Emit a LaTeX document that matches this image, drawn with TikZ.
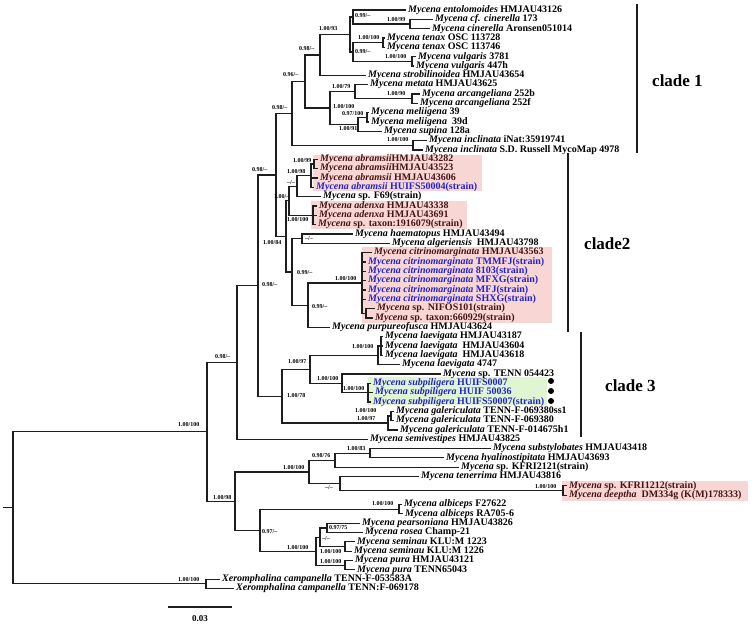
\documentclass[tikz,border=0pt]{standalone}
\usepackage{fontspec}
\setmainfont{Liberation Serif}

\definecolor{strainblue}{RGB}{35,35,205}
\definecolor{boxtext}{RGB}{70,20,20}
\definecolor{pinkbox}{RGB}{248,214,212}
\definecolor{greenbox}{RGB}{224,245,210}
\definecolor{branchcol}{RGB}{30,30,30}

\newcommand{\spn}[1]{\textit{#1}}

\tikzset{
  branch/.style={line width=1.2pt, draw=branchcol},
  leaf/.style={anchor=west, inner xsep=2pt, inner ysep=0pt, text height=6.5pt, text depth=1.8pt,
    font=\fontsize{10}{10}\selectfont\bfseries},
  newleaf/.style={leaf, text=strainblue},
  boxleaf/.style={leaf, text=boxtext},
  supp/.style={anchor=west, inner sep=0pt, font=\fontsize{6}{6}\selectfont\bfseries},
  cladebar/.style={line width=2.4pt, draw=branchcol},
  cladename/.style={anchor=west, inner sep=0pt, font=\fontsize{17}{17}\selectfont\bfseries},
}

\begin{document}
\begin{tikzpicture}[x=1pt,y=-1pt,line join=miter]

\path[fill=white,use as bounding box] (0,0) rectangle (755,627);

% highlight boxes
\fill[pinkbox] (313,155) rectangle (482,191);
\fill[pinkbox] (311,201) rectangle (467,229);
\fill[pinkbox] (362,247) rectangle (552,323);
\fill[greenbox] (368,377) rectangle (547,405);
\fill[pinkbox] (562,481) rectangle (748,501);

% tips
\node[leaf] (t1) at (406,10.0) {\spn{Mycena entolomoides} HMJAU43126};
\node[leaf] (t2) at (433,19.3) {\spn{Mycena cf. cinerella} 173};
\node[leaf] (t3) at (430,28.7) {\spn{Mycena cinerella} Aronsen051014};
\node[leaf] (t4) at (385,38.0) {\spn{Mycena tenax} OSC 113728};
\node[leaf] (t5) at (385,47.3) {\spn{Mycena tenax} OSC 113746};
\node[leaf] (t6) at (416,56.7) {\spn{Mycena vulgaris} 3781};
\node[leaf] (t7) at (414,66.0) {\spn{Mycena vulgaris} 447h};
\node[leaf] (t8) at (366,75.3) {\spn{Mycena strobilinoidea} HMJAU43654};
\node[leaf] (t9) at (368,84.6) {\spn{Mycena metata} HMJAU43625};
\node[leaf] (t10) at (420,94.0) {\spn{Mycena arcangeliana} 252b};
\node[leaf] (t11) at (418,103.3) {\spn{Mycena arcangeliana} 252f};
\node[leaf] (t12) at (369,112.6) {\spn{Mycena meliigena} 39};
\node[leaf] (t13) at (369,122.0) {\spn{Mycena meliigena}\ \ 39d};
\node[leaf] (t14) at (382,131.3) {\spn{Mycena supina} 128a};
\node[leaf] (t15) at (427,140.6) {\spn{Mycena inclinata} iNat:35919741};
\node[leaf] (t16) at (423,150.0) {\spn{Mycena inclinata} S.D. Russell MycoMap 4978};
\node[boxleaf] (t17) at (318,159.3) {\spn{Mycena abramsii}HMJAU43282};
\node[boxleaf] (t18) at (318,168.6) {\spn{Mycena abramsii}HMJAU43523};
\node[boxleaf] (t19) at (318,177.9) {\spn{Mycena abramsii} HMJAU43606};
\node[newleaf] (t20) at (314,187.3) {\spn{Mycena abramsii} HUIFS50004(strain)};
\node[leaf] (t21) at (321,196.6) {\spn{Mycena} sp. F69(strain)};
\node[boxleaf] (t22) at (317,205.9) {\spn{Mycena adenxa} HMJAU43338};
\node[boxleaf] (t23) at (317,215.3) {\spn{Mycena adenxa} HMJAU43691};
\node[boxleaf] (t24) at (316,224.6) {\spn{Mycena} sp. taxon:1916079(strain)};
\node[leaf] (t25) at (353,233.9) {\spn{Mycena haematopus} HMJAU43494};
\node[leaf] (t26) at (390,243.3) {\spn{Mycena algeriensis}\ \ HMJAU43798};
\node[boxleaf] (t27) at (372,252.6) {\spn{Mycena citrinomarginata} HMJAU43563};
\node[newleaf] (t28) at (366,261.9) {\spn{Mycena citrinomarginata} TMMFJ(strain)};
\node[newleaf] (t29) at (366,271.2) {\spn{Mycena citrinomarginata} 8103(strain)};
\node[newleaf] (t30) at (366,280.6) {\spn{Mycena citrinomarginata} MFXG(strain)};
\node[newleaf] (t31) at (366,289.9) {\spn{Mycena citrinomarginata} MFJ(strain)};
\node[newleaf] (t32) at (366,299.2) {\spn{Mycena citrinomarginata} SHXG(strain)};
\node[boxleaf] (t33) at (375,308.6) {\spn{Mycena} sp. NIFOS101(strain)};
\node[boxleaf] (t34) at (373,317.9) {\spn{Mycena} sp. taxon:660929(strain)};
\node[leaf] (t35) at (330,327.2) {\spn{Mycena purpureofusca} HMJAU43624};
\node[leaf] (t36) at (383,336.6) {\spn{Mycena laevigata} HMJAU43187};
\node[leaf] (t37) at (383,345.9) {\spn{Mycena laevigata}\ \ HMJAU43604};
\node[leaf] (t38) at (383,355.2) {\spn{Mycena laevigata}\ \ HMJAU43618};
\node[leaf] (t39) at (400,364.5) {\spn{Mycena laevigata} 4747};
\node[leaf] (t40) at (441,373.9) {\spn{Mycena} sp. TENN 054423};
\node[newleaf] (t41) at (371,383.2) {\spn{Mycena subpiligera} HUIFS0007};
\node[newleaf] (t42) at (373,392.5) {\spn{Mycena subpiligera} HUIF 50036};
\node[newleaf] (t43) at (371,401.9) {\spn{Mycena subpiligera} HUIFS50007(strain)};
\node[leaf] (t44) at (394,411.2) {\spn{Mycena galericulata} TENN-F-069380ss1};
\node[leaf] (t45) at (394,420.5) {\spn{Mycena galericulata} TENN-F-069380};
\node[leaf] (t46) at (398,429.9) {\spn{Mycena galericulata} TENN-F-014675h1};
\node[leaf] (t47) at (368,439.2) {\spn{Mycena semivestipes} HMJAU43825};
\node[leaf] (t48) at (491,448.5) {\spn{Mycena substylobates} HMJAU43418};
\node[leaf] (t49) at (444,457.8) {\spn{Mycena hyalinostipitata} HMJAU43693};
\node[leaf] (t50) at (459,467.2) {\spn{Mycena} sp. KFRI2121(strain)};
\node[leaf] (t51) at (419,476.5) {\spn{Mycena tenerrima} HMJAU43816};
\node[boxleaf] (t52) at (567,485.8) {\spn{Mycena} sp. KFRI1212(strain)};
\node[boxleaf] (t53) at (567,495.2) {\spn{Mycena deeptha}\ \ DM334g (K(M)178333)};
\node[leaf] (t54) at (402,504.5) {\spn{Mycena albiceps} F27622};
\node[leaf] (t55) at (403,513.8) {\spn{Mycena albiceps} RA705-6};
\node[leaf] (t56) at (360,523.2) {\spn{Mycena pearsoniana} HMJAU43826};
\node[leaf] (t57) at (363,532.5) {\spn{Mycena rosea} Champ-21};
\node[leaf] (t58) at (355,541.8) {\spn{Mycena seminau} KLU:M 1223};
\node[leaf] (t59) at (352,551.1) {\spn{Mycena seminau} KLU:M 1226};
\node[leaf] (t60) at (353,560.5) {\spn{Mycena pura} HMJAU43121};
\node[leaf] (t61) at (355,569.8) {\spn{Mycena pura} TENN65043};
\node[leaf] (t62) at (220,579.1) {\spn{Xeromphalina campanella} TENN-F-053583A};
\node[leaf] (t63) at (234,588.5) {\spn{Xeromphalina campanella} TENN:F-069178};

% internal nodes, clade 1
\coordinate (cin) at (410,24.0);
\coordinate (w1) at (353,17.0);
\coordinate (ten) at (383,42.7);
\coordinate (vul) at (412,61.4);
\coordinate (w3) at (353,52.0);
\coordinate (x1) at (350,34.5);
\coordinate (v4) at (320,54.9);
\coordinate (arc) at (412,98.7);
\coordinate (z1) at (355,91.7);
\coordinate (mel) at (367,117.3);
\coordinate (z2) at (358,124.3);
\coordinate (y1) at (330,108.0);
\coordinate (v5) at (305,81.5);
\coordinate (inc) at (413,145.3);
\coordinate (v6) at (292,113.4);

% internal nodes, clade 2
\coordinate (ab1) at (314,164.0);
\coordinate (ab2) at (311,175.7);
\coordinate (ab3) at (297,186.2);
\coordinate (adx) at (313,215.3);
\coordinate (ab4) at (289,200.7);
\coordinate (ad) at (302,238.6);
\coordinate (nif) at (366,313.3);
\coordinate (cit) at (362,282.9);
\coordinate (ag) at (308,305.1);
\coordinate (ac) at (292,271.9);
\coordinate (aa) at (286,236.3);
\coordinate (d1) at (276,174.9);

% internal nodes, clade 3
\coordinate (lv1) at (381,345.9);
\coordinate (lv) at (378,355.2);
\coordinate (sub) at (368,392.5);
\coordinate (h1) at (342,383.2);
\coordinate (f1) at (310,369.2);
\coordinate (gal1) at (391,415.9);
\coordinate (gal) at (388,422.9);
\coordinate (e1) at (282,396.1);
\coordinate (c1) at (258,285.5);
\coordinate (b1) at (237,362.4);

% internal nodes, lower part
\coordinate (p1) at (370,453.2);
\coordinate (n1) at (335,460.2);
\coordinate (q1) at (563,490.5);
\coordinate (o1) at (340,483.5);
\coordinate (l1) at (309,471.9);
\coordinate (alb) at (399,509.2);
\coordinate (ros) at (327,527.9);
\coordinate (sem) at (345,546.5);
\coordinate (u1) at (320,537.2);
\coordinate (pur) at (345,565.2);
\coordinate (s1) at (316,551.2);
\coordinate (m1) at (260,530.2);
\coordinate (k1) at (235,501.1);
\coordinate (a1) at (207,431.8);
\coordinate (xer) at (206,583.8);
\coordinate (root) at (13,507.8);
\coordinate (stub) at (3,507.8);

% branches, clade 1
\draw[branch] (cin) |- (t2) (cin) |- (t3);
\draw[branch] (w1) |- (t1) (w1) |- (cin);
\draw[branch] (ten) |- (t4) (ten) |- (t5);
\draw[branch] (vul) |- (t6) (vul) |- (t7);
\draw[branch] (w3) |- (ten) (w3) |- (vul);
\draw[branch] (x1) |- (w1) (x1) |- (w3);
\draw[branch] (v4) |- (x1) (v4) |- (t8);
\draw[branch] (arc) |- (t10) (arc) |- (t11);
\draw[branch] (z1) |- (t9) (z1) |- (arc);
\draw[branch] (mel) |- (t12) (mel) |- (t13);
\draw[branch] (z2) |- (mel) (z2) |- (t14);
\draw[branch] (y1) |- (z1) (y1) |- (z2);
\draw[branch] (v5) |- (v4) (v5) |- (y1);
\draw[branch] (inc) |- (t15) (inc) |- (t16);
\draw[branch] (v6) |- (v5) (v6) |- (inc);

% branches, clade 2
\draw[branch] (ab1) |- (t17) (ab1) |- (t18);
\draw[branch] (ab2) |- (ab1) (ab2) |- (t19) (ab2) |- (t20);
\draw[branch] (ab3) |- (ab2) (ab3) |- (t21);
\draw[branch] (adx) |- (t22) (adx) |- (t23) (adx) |- (t24);
\draw[branch] (ab4) |- (ab3) (ab4) |- (adx);
\draw[branch] (ad) |- (t25) (ad) |- (t26);
\draw[branch] (nif) |- (t33) (nif) |- (t34);
\draw[branch] (cit) |- (t27) (cit) |- (t28) (cit) |- (t29) (cit) |- (t30)
  (cit) |- (t31) (cit) |- (t32) (cit) |- (nif);
\draw[branch] (ag) |- (cit) (ag) |- (t35);
\draw[branch] (ac) |- (ad) (ac) |- (ag);
\draw[branch] (aa) |- (ab4) (aa) |- (ac);
\draw[branch] (d1) |- (v6) (d1) |- (aa);

% branches, clade 3
\draw[branch] (lv1) |- (t36) (lv1) |- (t37) (lv1) |- (t38);
\draw[branch] (lv) |- (lv1) (lv) |- (t39);
\draw[branch] (sub) |- (t41) (sub) |- (t42) (sub) |- (t43);
\draw[branch] (h1) |- (t40) (h1) |- (sub);
\draw[branch] (f1) |- (lv) (f1) |- (h1);
\draw[branch] (gal1) |- (t44) (gal1) |- (t45);
\draw[branch] (gal) |- (gal1) (gal) |- (t46);
\draw[branch] (e1) |- (f1) (e1) |- (gal);
\draw[branch] (c1) |- (d1) (c1) |- (e1);
\draw[branch] (b1) |- (c1) (b1) |- (t47);

% branches, lower part
\draw[branch] (p1) |- (t48) (p1) |- (t49);
\draw[branch] (n1) |- (p1) (n1) |- (t50);
\draw[branch] (q1) |- (t52) (q1) |- (t53);
\draw[branch] (o1) |- (t51) (o1) |- (q1);
\draw[branch] (l1) |- (n1) (l1) |- (o1);
\draw[branch] (alb) |- (t54) (alb) |- (t55);
\draw[branch] (ros) |- (t56) (ros) |- (t57);
\draw[branch] (sem) |- (t58) (sem) |- (t59);
\draw[branch] (u1) |- (ros) (u1) |- (sem);
\draw[branch] (pur) |- (t60) (pur) |- (t61);
\draw[branch] (s1) |- (u1) (s1) |- (pur);
\draw[branch] (m1) |- (alb) (m1) |- (s1);
\draw[branch] (k1) |- (l1) (k1) |- (m1);
\draw[branch] (a1) |- (b1) (a1) |- (k1);
\draw[branch] (xer) |- (t62) (xer) |- (t63);
\draw[branch] (root) |- (a1) (root) |- (xer);
\draw[branch] (stub) -- (root);

% support values
\node[supp] (pp-w1) at (355,16) {0.99/--};
\node[supp] (pp-cin) at (387,20) {1.00/99};
\node[supp] (pp-x1) at (319,29) {1.00/93};
\node[supp] (pp-ten) at (358,38) {1.00/100};
\node[supp] (pp-w3) at (355,52) {0.99/--};
\node[supp] (pp-vul) at (385,57) {1.00/100};
\node[supp] (pp-v4) at (299,49) {0.98/--};
\node[supp] (pp-v5) at (283,75) {0.96/--};
\node[supp] (pp-v6) at (272,108) {0.98/--};
\node[supp] (pp-z1) at (332,87) {1.00/79};
\node[supp] (pp-arc) at (387,94) {1.00/90};
\node[supp] (pp-y1) at (333,107) {1.00/100};
\node[supp] (pp-mel) at (342,114) {0.97/100};
\node[supp] (pp-z2) at (339,129) {1.00/91};
\node[supp] (pp-inc) at (387,140) {1.00/100};
\node[supp] (pp-d1) at (252,170) {0.98/--};
\node[supp] (pp-ab1) at (293,161) {1.00/99};
\node[supp] (pp-ab2) at (287,171.5) {1.00/98};
\node[supp] (pp-ab3) at (287,182.5) {--/--};
\node[supp] (pp-ab4) at (274,197) {1.00/--};
\node[supp] (pp-adx) at (287,220) {1.00/100};
\node[supp] (pp-ad) at (305,239) {--/--};
\node[supp] (pp-aa) at (263,243) {1.00/84};
\node[supp] (pp-ac) at (297,273) {0.99/--};
\node[supp] (pp-cit) at (335,278.5) {1.00/100};
\node[supp] (pp-ag) at (312,307) {0.99/--};
\node[supp] (pp-c1) at (262,285) {0.98/--};
\node[supp] (pp-b1) at (215,357) {0.98/--};
\node[supp] (pp-f1) at (288,362) {1.00/97};
\node[supp] (pp-lv) at (352,347) {1.00/100};
\node[supp] (pp-h1) at (317,379) {1.00/100};
\node[supp] (pp-sub) at (343,389) {1.00/100};
\node[supp] (pp-e1) at (287,396) {1.00/78};
\node[supp] (pp-gal1) at (355,411) {1.00/100};
\node[supp] (pp-gal) at (357,419) {1.00/97};
\node[supp] (pp-a1) at (178,425) {1.00/100};
\node[supp] (pp-p1) at (347,449) {1.00/83};
\node[supp] (pp-n1) at (312,456) {0.98/76};
\node[supp] (pp-l1) at (283,468) {1.00/100};
\node[supp] (pp-o1) at (325,488) {--/--};
\node[supp] (pp-q1) at (535,487) {1.00/100};
\node[supp] (pp-k1) at (213,498) {1.00/98};
\node[supp] (pp-alb) at (372,504) {1.00/100};
\node[supp] (pp-ros) at (329,528) {0.97/75};
\node[supp] (pp-m1) at (262,532) {0.97/--};
\node[supp] (pp-u1) at (322,539) {--/--};
\node[supp] (pp-s1) at (287,548) {1.00/100};
\node[supp] (pp-sem) at (320,552) {1.00/100};
\node[supp] (pp-pur) at (320,562) {1.00/100};
\node[supp] (pp-xer) at (178,580) {1.00/100};

% marks for the new collections
\fill[black] (551,381) circle (3pt);
\fill[black] (551,391) circle (3pt);
\fill[black] (551,401) circle (3pt);

% clade bars
\coordinate (bar1a) at (637,4);
\coordinate (bar1b) at (637,153);
\coordinate (bar2a) at (568,153);
\coordinate (bar2b) at (568,332);
\coordinate (bar3a) at (581,332);
\coordinate (bar3b) at (581,437);
\draw[cladebar] (bar1a) -- (bar1b);
\draw[cladebar] (bar2a) -- (bar2b);
\draw[cladebar] (bar3a) -- (bar3b);
\node[cladename] (clade1) at (652,81) {clade 1};
\node[cladename] (clade2) at (584,244) {clade2};
\node[cladename] (clade3) at (605,386) {clade 3};

% scale bar
\coordinate (sb0) at (168,607);
\coordinate (sb1) at (232,607);
\draw[branch] (sb0) -- (sb1);
\node[font=\fontsize{9}{9}\selectfont\bfseries] (sblab) at (200,619) {0.03};

\end{tikzpicture}
\end{document}
